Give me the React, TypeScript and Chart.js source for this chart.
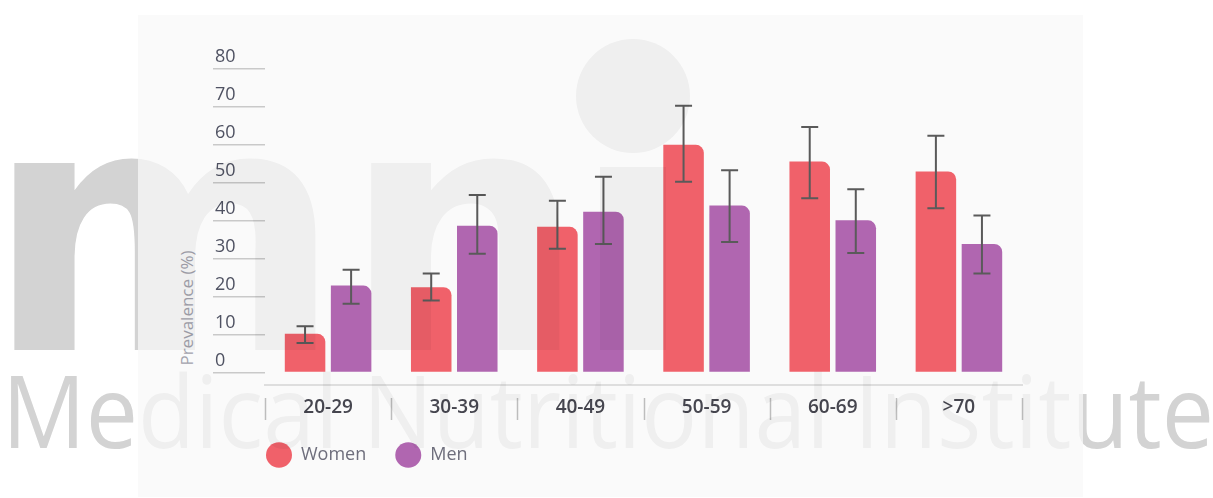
import React, { useEffect, useRef } from 'react';
import { Chart, registerables } from 'chart.js';

Chart.register(...registerables);

const categories = ['20-29', '30-39', '40-49', '50-59', '60-69', '>70'];
const womenValues = [10.2, 22.5, 38.4, 60.0, 55.6, 53.0];
const womenHigh = [12.2, 26.1, 45.3, 70.3, 64.7, 62.4];
const womenLow = [7.8, 19.0, 32.6, 50.3, 45.9, 43.3];
const menValues = [22.9, 38.7, 42.4, 44.0, 40.1, 33.9];
const menHigh = [27.1, 46.8, 51.6, 53.3, 48.3, 41.4];
const menLow = [18.1, 31.3, 33.9, 34.4, 31.5, 26.1];
const seriesLabels = ['Women', 'Men'];
const seriesColors = ['#F0616A', '#B066B0'];
const yTickValues = [0, 10, 20, 30, 40, 50, 60, 70, 80];
const yAxisTitle = 'Prevalence (%)';
const yMin = -3.3;
const yMax = 80;

const FONT = "'Open Sans', 'Noto Sans', sans-serif";

const errorBarPlugin = {
  id: 'errorBars',
  afterDatasetsDraw(chart: any) {
    const { ctx } = chart;
    const yScale = chart.scales.y;
    chart.data.datasets.forEach((ds: any, di: number) => {
      const meta = chart.getDatasetMeta(di);
      meta.data.forEach((bar: any, i: number) => {
        const x = bar.x;
        const yh = yScale.getPixelForValue(ds.errHigh[i]);
        const yl = yScale.getPixelForValue(ds.errLow[i]);
        ctx.save();
        ctx.strokeStyle = '#5a5a5a';
        ctx.lineWidth = 2;
        ctx.beginPath();
        ctx.moveTo(x, yh);
        ctx.lineTo(x, yl);
        ctx.moveTo(x - 8.5, yh);
        ctx.lineTo(x + 8.5, yh);
        ctx.moveTo(x - 8.5, yl);
        ctx.lineTo(x + 8.5, yl);
        ctx.stroke();
        ctx.restore();
      });
    });
  },
};

const separatorPlugin = {
  id: 'categorySeparators',
  afterDraw(chart: any) {
    const { ctx, chartArea } = chart;
    const xs = chart.scales.x;
    const n = categories.length;
    const step = (xs.right - xs.left) / n;
    ctx.save();
    ctx.strokeStyle = '#bdbdbd';
    ctx.lineWidth = 1.5;
    for (let i = 0; i <= n; i++) {
      const x = Math.round(xs.left + i * step) + 0.5;
      ctx.beginPath();
      ctx.moveTo(x, chartArea.bottom + 13);
      ctx.lineTo(x, chartArea.bottom + 35);
      ctx.stroke();
    }
    ctx.restore();
  },
};

const legendPlacePlugin = {
  id: 'legendPlace',
  afterLayout(chart: any) {
    const lg = chart.legend;
    if (!lg) return;
    lg.left = 237;
    lg.right = 237 + 600;
    lg.top = 417;
    lg.bottom = 417 + 75;
  },
};

function Watermark({ dark }: { dark: boolean }) {
  return (
    <svg
      width={1213}
      height={498}
      style={{ position: 'absolute', left: 0, top: 0, pointerEvents: 'none', zIndex: dark ? 3 : 0 }}
    >
      <g fill={dark ? '#000' : '#dddddd'} opacity={dark ? 0.045 : 1}>
        <text
          x={-14}
          y={350}
          fontFamily="'DejaVu Sans', 'Liberation Sans', sans-serif"
          fontWeight={700}
          fontSize={342}
          textLength={600}
          lengthAdjust="spacingAndGlyphs"
        >
          mn
        </text>
        <rect x={600} y={167} width={66} height={183} />
        <circle cx={633} cy={96} r={57} />
        <text
          x={2}
          y={448}
          fontFamily="'Open Sans', sans-serif"
          fontWeight={400}
          fontSize={101}
          textLength={1212}
          lengthAdjust="spacingAndGlyphs"
        >
          Medical Nutritional Institute
        </text>
      </g>
    </svg>
  );
}

export default function App() {
  const canvasRef = useRef<HTMLCanvasElement>(null);

  useEffect(() => {
    const canvas = canvasRef.current;
    if (!canvas) return;
    const chart = new Chart(canvas, {
      type: 'bar',
      data: {
        labels: categories,
        datasets: [
          {
            label: seriesLabels[0],
            data: womenValues,
            backgroundColor: seriesColors[0],
            borderWidth: 0,
            borderRadius: { topLeft: 0, topRight: 8, bottomLeft: 0, bottomRight: 0 },
            categoryPercentage: 0.73,
            barPercentage: 0.88,
            errHigh: womenHigh,
            errLow: womenLow,
          } as any,
          {
            label: seriesLabels[1],
            data: menValues,
            backgroundColor: seriesColors[1],
            borderWidth: 0,
            borderRadius: { topLeft: 0, topRight: 8, bottomLeft: 0, bottomRight: 0 },
            categoryPercentage: 0.73,
            barPercentage: 0.88,
            errHigh: menHigh,
            errLow: menLow,
          } as any,
        ],
      },
      options: {
        responsive: false,
        animation: false,
        layout: { padding: { left: 215, top: 69, right: 191, bottom: 11 } },
        plugins: {
          tooltip: { enabled: false },
          title: { display: false },
          legend: {
            display: true,
            position: 'bottom',
            align: 'start',
            labels: {
              usePointStyle: true,
              pointStyle: 'circle',
              pointStyleWidth: 26,
              padding: 29,
              color: '#6e6e7c',
              font: { family: FONT, size: 18 },
            },
          },
        },
        scales: {
          x: {
            grid: { display: false, drawTicks: false },
            border: { display: true, color: '#dedede', width: 2 },
            ticks: {
              color: '#46464f',
              padding: 11,
              font: { family: FONT, size: 19, weight: '600' as any },
            },
            afterFit: (s: any) => {
              s.height = 45;
            },
          },
          y: {
            min: yMin,
            max: yMax,
            grid: {
              display: true,
              drawOnChartArea: false,
              drawTicks: true,
              tickLength: 52,
              tickColor: '#c9c9c9',
              lineWidth: 1.5,
            },
            border: { display: false },
            ticks: {
              crossAlign: 'far',
              labelOffset: -12,
              padding: 0,
              color: '#4f5262',
              font: { family: FONT, size: 18 },
            },
            afterBuildTicks: (s: any) => {
              s.ticks = yTickValues.map((v) => ({ value: v }));
            },
            afterFit: (s: any) => {
              s.width = 50;
            },
          },
        },
      },
      plugins: [errorBarPlugin, separatorPlugin, legendPlacePlugin],
    });
    return () => chart.destroy();
  }, []);

  return (
    <div style={{ position: 'absolute', left: 0, top: 0, width: 1213, height: 498, background: '#ffffff', overflow: 'hidden' }}>
      <Watermark dark={false} />
      <div
        style={{
          position: 'absolute',
          left: 138,
          top: 15,
          width: 945,
          height: 482,
          background: '#fafafa',
          zIndex: 1,
        }}
      />
      <div
        style={{
          position: 'absolute',
          left: 186,
          top: 308,
          transform: 'translate(-50%, -50%) rotate(-90deg)',
          whiteSpace: 'nowrap',
          fontFamily: FONT,
          fontSize: 17,
          color: '#a3a3ad',
          zIndex: 2,
        }}
      >
        {yAxisTitle}
      </div>
      <canvas
        ref={canvasRef}
        width={1213}
        height={498}
        style={{ position: 'absolute', left: 0, top: 0, width: 1213, height: 498, zIndex: 2 }}
      />
      <Watermark dark={true} />
    </div>
  );
}
